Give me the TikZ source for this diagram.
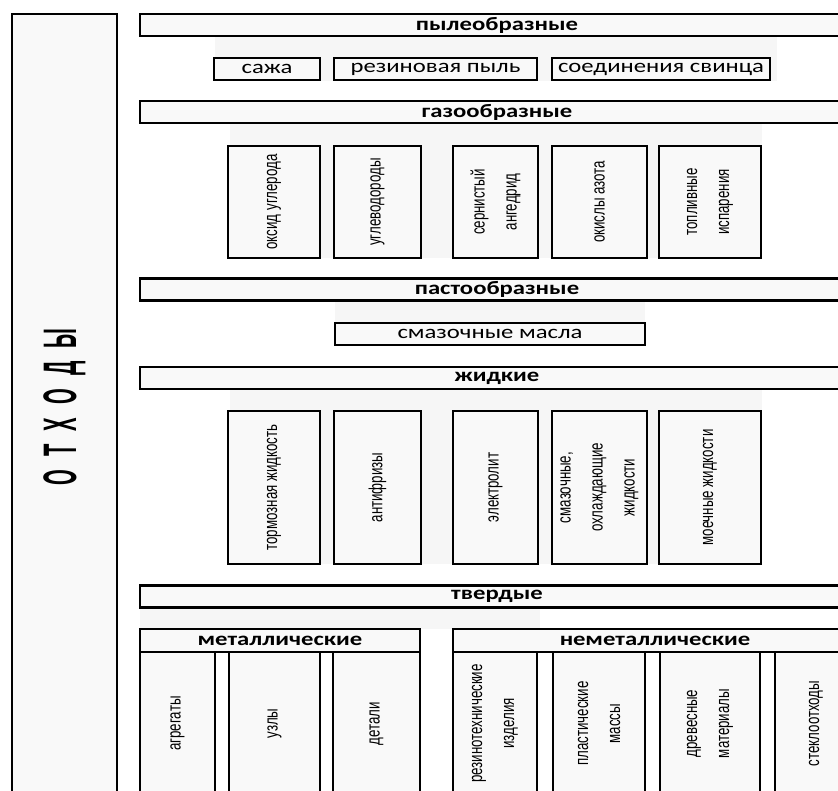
\documentclass[tikz,border=0pt]{standalone}
\usepackage{fontspec}
\setmainfont{Carlito}
\newfontfamily\widefont[FakeStretch=1.3]{Carlito}
\newfontfamily\rotfont[FakeStretch=0.7]{Liberation Sans}
\newfontfamily\tallfont[FakeStretch=0.43]{Liberation Sans}
\usepackage{tikz}
\definecolor{boxfill}{gray}{0.975}
\definecolor{grpfill}{gray}{0.965}
\tikzset{
  cell/.style   ={draw, line width=2.9pt, fill=boxfill, inner sep=0pt},
  bar/.style    ={cell, minimum width=714, minimum height=22,
                  font=\widefont\bfseries\fontsize{19}{19}\selectfont},
  hbox/.style   ={cell, minimum height=22,
                  font=\widefont\fontsize{19}{19}\selectfont},
  vbox/.style   ={cell, rotate=90, align=center,
                  font=\rotfont\fontsize{19}{32}\selectfont},
  gasbox/.style ={vbox, minimum width=112},
  liqbox/.style ={vbox, minimum width=153},
  solbox/.style ={vbox, minimum width=143},
  title/.style  ={cell, rotate=90, minimum width=786, minimum height=105,
                  font=\tallfont\bfseries\fontsize{47}{47}\selectfont,
                  execute at begin node={\spaceskip=13pt\relax}},
}
\begin{document}
\begin{tikzpicture}[x=1pt, y=-1pt]
\useasboundingbox (0,0) rectangle (838,791);
\clip (0,0) rectangle (838,791);
\fill[grpfill] (215,37) rectangle (777,81);
\fill[grpfill] (230,124) rectangle (762,258);
\fill[grpfill] (335,301) rectangle (645,345);
\fill[grpfill] (230,390) rectangle (762,564);
\fill[grpfill] (140,608) rectangle (540,629);

\node[title] (waste) at (64.5,407) {О Т Х О Д Ы};

\node[bar] (dust) at (497,25) {пылеобразные};
\node[hbox, minimum width=106] (soot) at (267,69) {сажа};
\node[hbox, minimum width=203] (rubber) at (435.5,69) {резиновая пыль};
\node[hbox, minimum width=218] (lead) at (661,69) {соединения свинца};

\node[bar] (gas) at (497,112) {газообразные};
\node[gasbox, minimum height=92] (co) at (274,202) {оксид углерода};
\node[gasbox, minimum height=87] (hc) at (377.5,202) {углеводороды};
\node[gasbox, minimum height=85] (so) at (495.5,202) {сернистый\\ангедрид};
\node[gasbox, minimum height=95] (no) at (599.5,202) {окислы азота};
\node[gasbox, minimum height=102] (fuel) at (710,202) {топливные\\испарения};

\node[bar] (paste) at (497,289.5) {пастообразные};
\node[hbox, minimum width=310] (grease) at (490,334) {смазочные масла};

\node[bar] (liquid) at (497,378) {жидкие};
\node[liqbox, minimum height=92] (brake) at (274,487.5) {тормозная жидкость};
\node[liqbox, minimum height=87] (anti) at (377.5,487.5) {антифризы};
\node[liqbox, minimum height=85] (elec) at (495.5,487.5) {электролит};
\node[liqbox, minimum height=95] (cool) at (599.5,487.5) {смазочные,\\охлаждающие\\жидкости};
\node[liqbox, minimum height=102] (wash) at (710,487.5) {моечные жидкости};

\node[bar] (solid) at (497,596.5) {твердые};
\node[bar, minimum width=280, minimum height=23] (metal) at (280,640.5) {металлические};
\node[solbox, minimum height=75] (units) at (177.5,723.5) {агрегаты};
\node[solbox, minimum height=91] (nodes) at (274.5,723.5) {узлы};
\node[solbox, minimum height=87] (parts) at (376.5,723.5) {детали};
\node[bar, minimum width=404, minimum height=23] (nonmetal) at (655,640.5) {неметаллические};
\node[solbox, minimum height=84] (rtw) at (495,723.5) {резинотехнические\\изделия};
\node[solbox, minimum height=92] (plast) at (599,723.5) {пластические\\массы};
\node[solbox, minimum height=100] (wood) at (710,723.5) {древесные\\материалы};
\node[solbox, minimum height=82] (glass) at (816,723.5) {стеклоотходы};
\end{tikzpicture}
\end{document}
